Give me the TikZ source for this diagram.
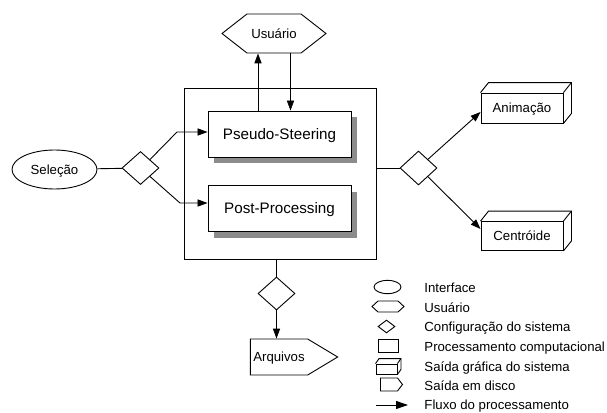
\documentclass[tikz,border=0pt]{standalone}
\usepackage{fontspec}
\setmainfont{Liberation Sans}
\usetikzlibrary{shapes.geometric,shapes.symbols,shadows,arrows.meta}

\tikzset{
  txt/.style={font=\fontsize{6.6}{8}\selectfont,text height=4.7pt,text depth=0pt},
  flow/.style={-{Triangle[length=5pt,width=3.6pt]}},
  iface/.style={txt,draw,ellipse,inner sep=0pt},
  user/.style={txt,draw,signal,signal to=east and west,inner sep=0pt},
  config/.style={draw,diamond,inner sep=0pt},
  proc/.style={draw,fill=white,inner sep=0pt,minimum width=71.5pt,minimum height=23pt,
    font=\fontsize{7.6}{9}\selectfont,text height=5.4pt,text depth=0pt,
    drop shadow={shadow xshift=2.75pt,shadow yshift=-3pt,fill=black!45,opacity=1}},
  screen/.style={txt,draw,inner sep=0pt},
  disk/.style={txt,draw,signal,signal to=east,inner sep=0pt},
  legend/.style={txt,anchor=west,inner sep=0pt}
}
% front face plus top and side of a solid box
\newcommand\boxfaces[2]{%
  \draw (#1.north west) -- ++(#2) -| ([shift={(#2)}]#1.south east) -- (#1.south east);
  \draw (#1.north east) -- ++(#2);}

\begin{document}
\begin{tikzpicture}[x=0.5pt,y=-0.5pt,line width=0.45pt]
\useasboundingbox (0,0) rectangle (607,413);

% system and its two modes
\node[draw,minimum width=96pt,minimum height=85.5pt] (sys) at (280,173.5) {};
\node[proc] (pseudo) at (279.5,134) {Pseudo-Steering};
\node[proc] (post) at (279.5,208.5) {Post-Processing};

\node[user,minimum width=52pt,minimum height=19.5pt,signal pointer angle=76] (usr) at (274,33.5) {Usuário};
\node[iface,minimum width=42.5pt,minimum height=19.5pt] (sel) at (54.5,169.5) {Seleção};
\node[config,minimum width=18.5pt,minimum height=16.5pt] (dl) at (140.5,168) {};
\node[config,minimum width=18.5pt,minimum height=17pt] (dr) at (418.5,168) {};
\node[config,minimum width=18.5pt,minimum height=16.5pt] (db) at (276.5,293.5) {};

\node[screen,minimum width=41pt,minimum height=15pt] (anim) at (522,108) {Animação};
\node[screen,minimum width=41pt,minimum height=14.5pt] (cent) at (522,236) {Centróide};
\boxfaces{anim}{4pt,5pt}
\boxfaces{cent}{4pt,5pt}
\node[disk,inner xsep=1.5pt,minimum height=18pt,signal pointer angle=62] (arq) at (279,357) {Arquivos};

% connections
\coordinate (kup) at (177,132);
\coordinate (kdn) at (180,203);
\draw (sel) -- (dl);
\draw[flow] (dl.north east) -- (kup) -- (kup -| pseudo.west);
\draw[flow] (dl.south east) -- (kdn) -- (kdn -| post.west);
\draw[flow,line width=0.5pt] ([xshift=-10.75pt]pseudo.north) -- ([xshift=-10.75pt]pseudo.north |- usr.south);
\draw[flow,line width=0.3pt] ([xshift=8.25pt]usr.south) -- ([xshift=8.25pt]usr.south |- pseudo.north);
\draw (dr.west -| sys.east) -- (dr);
\draw[flow] (dr.north east) -- ([yshift=-2pt]anim.west);
\draw[flow] (dr.south east) -- ([yshift=3.5pt]cent.west);
\draw (db.north |- sys.south) -- (db);
\draw[flow] (db) -- (db.south |- arq.north);

% legend
\node[iface,minimum width=13.5pt,minimum height=6pt] (lg1) at (387.5,287) {};
\node[user,minimum width=16pt,minimum height=5.5pt,signal pointer angle=85] (lg2) at (388,306.5) {};
\node[config,minimum width=8.5pt,minimum height=6.5pt] (lg3) at (386.5,326.5) {};
\node[screen,minimum width=10pt,minimum height=6.5pt] (lg4) at (388,345.5) {};
\node[screen,minimum width=10.5pt,minimum height=5pt] (lg5) at (386.5,369) {};
\boxfaces{lg5}{1.75pt,2.5pt}
\node[disk,minimum width=11pt,minimum height=6.5pt,signal pointer angle=105] (lg6) at (389,384.5) {};
\coordinate (lg7a) at (376,405);
\coordinate (lg7b) at (408,405);
\draw[flow,-{Triangle[length=6pt,width=4pt]}] (lg7a) -- (lg7b);

\node[legend] at (424,288) {Interface};
\node[legend] at (424,308) {Usuário};
\node[legend] at (424,327) {Configuração do sistema};
\node[legend] at (424,347) {Processamento computacional};
\node[legend] at (424,367) {Saída gráfica do sistema};
\node[legend] at (424,386) {Saída em disco};
\node[legend] at (424,405) {Fluxo do processamento};
\end{tikzpicture}
\end{document}
